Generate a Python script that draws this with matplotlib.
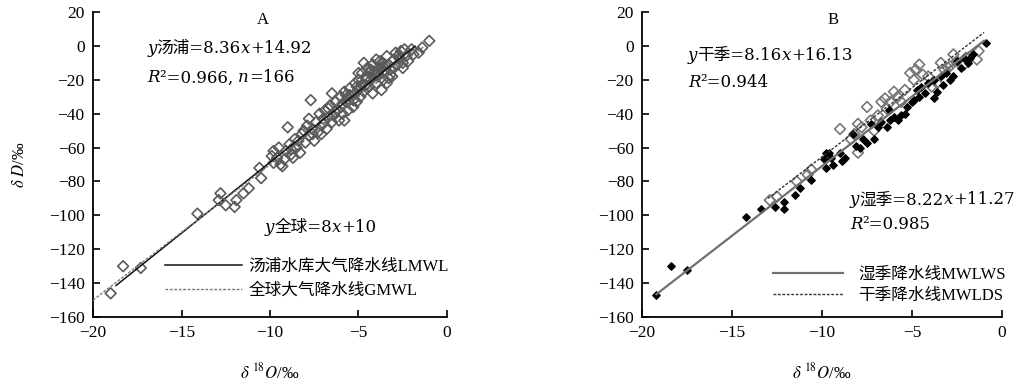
import matplotlib
matplotlib.use('Agg')
import numpy as np
import matplotlib.pyplot as plt

plt.rcParams['font.family'] = ['Liberation Serif', 'Noto Sans CJK SC']
plt.rcParams['mathtext.fontset'] = 'stix'

# ---- data ----
# A: all samples, Tangpu reservoir
a_x = [-19.0, -18.3, -17.3, -14.1, -12.8, -12.9, -12.5, -11.9, -12.0, -11.5, -11.2, -10.6, -10.5,
       -9.9, -9.8, -9.8, -9.6, -9.5, -9.4, -9.2, -9.1, -9.0, -8.9, -8.8, -8.7, -8.6, -8.5, -8.4,
       -8.3, -8.2, -8.1, -8.0, -7.9, -7.8, -7.8, -7.7, -7.6, -7.5, -7.4, -7.3, -7.2, -7.1, -7.0,
       -6.9, -6.8, -6.7, -6.6, -6.5, -6.5, -6.4, -6.3, -6.2, -6.1, -6.0, -6.0, -5.9, -5.8, -5.8,
       -5.7, -5.6, -5.6, -5.5, -5.4, -5.3, -5.2, -5.2, -5.1, -5.0, -5.0, -4.9, -4.8, -4.8, -4.7,
       -4.7, -4.6, -4.5, -4.5, -4.4, -4.4, -4.3, -4.2, -4.2, -4.1, -4.0, -4.0, -3.9, -3.8, -3.7,
       -3.7, -3.6, -3.5, -3.4, -3.4, -3.3, -3.2, -3.1, -3.0, -3.0, -2.9, -2.8, -2.7, -2.6, -2.5,
       -2.4, -2.3, -2.2, -2.0, -1.9, -1.6, -1.4, -1.0,
       -6.3, -5.9, -5.5, -5.3, -4.9, -4.6, -4.3, -3.9, -3.6, -3.3, -2.8, -2.5, -7.6, -7.0, -6.7,
       -8.8, -9.3, -5.1, -4.1, -3.5, -4.5, -3.8, -3.2, -2.6, -5.7, -5.0]
a_y = [-146, -130, -131, -99, -87, -91, -94, -91, -95, -87, -84, -72, -78,
       -65, -62, -69, -66, -60, -70, -67, -62, -48, -58, -61, -66, -55, -60, -56,
       -63, -52, -50, -57, -47, -43, -53, -32, -49, -56, -45, -51, -40, -52, -46,
       -38, -49, -42, -35, -28, -45, -41, -33, -38, -44, -30, -36, -40, -44, -27,
       -33, -32, -38, -25, -30, -36, -22, -28, -33, -20, -26, -30, -16, -23, -10,
       -27, -19, -13, -25, -24, -16, -20, -11, -28, -15, -22, -8, -18, -13, -26,
       -10, -20, -15, -6, -22, -11, -17, -18, -8, -13, -4, -11, -7, -8, -13,
       -2, -6, -9, -2, -5, -4, -1, 3,
       -39, -34, -29, -32, -24, -23, -14, -16, -12, -19, -6, -10, -52, -43, -37,
       -64, -71, -24, -17, -11, -19, -9, -14, -3, -29, -16]

# B: dry season (hollow) and wet season (filled)
dry_x = [-12.9, -12.5, -11.4, -10.8, -10.6, -9.0, -8.4, -8.2, -8.0, -8.0, -7.5, -7.1, -6.9,
         -6.7, -6.5, -6.4, -6.2, -6.0, -5.6, -5.1, -4.9, -4.8, -4.6, -4.1, -3.9, -3.6, -3.4,
         -3.2, -2.9, -2.5, -2.1, -2.0, -1.4, -1.3, -7.8, -7.3, -5.8, -5.4, -4.4, -3.0, -2.7]
dry_y = [-91, -89, -80, -76, -73, -49, -55, -52, -46, -63, -36, -50, -41,
         -33, -31, -37, -33, -27, -33, -16, -20, -14, -11, -18, -24, -22, -10,
         -14, -12, -9, -11, -7, -8, -3, -48, -44, -30, -26, -17, -13, -5]
wet_x = [-19.2, -18.4, -17.5, -14.2, -13.4, -12.6, -12.1, -12.1, -11.5, -11.2, -10.6, -9.8, -9.8,
         -9.5, -9.4, -9.0, -8.7, -8.3, -8.1, -7.5, -7.3, -6.9, -6.4, -6.3, -5.8, -5.4, -5.3,
         -4.9, -4.7, -4.5, -4.3, -4.1, -3.8, -3.8, -3.4, -3.1, -2.9, -2.5, -2.1, -1.8, -1.6,
         -0.9, -9.9, -9.6, -8.9, -7.9, -7.7, -6.7, -6.0, -5.6, -5.0, -4.6, -3.6, -3.3, -2.7,
         -2.3, -1.9, -7.1, -6.2]
wet_y = [-147, -130, -132, -101, -96, -95, -92, -96, -88, -84, -79, -72, -63,
         -66, -70, -63, -66, -52, -59, -57, -46, -48, -48, -38, -44, -40, -36,
         -32, -26, -24, -28, -22, -31, -20, -18, -16, -20, -9, -7, -7, -5,
         2, -67, -63, -68, -60, -55, -45, -42, -41, -33, -30, -27, -23, -18,
         -13, -10, -55, -44]

# regression lines: (slope, intercept, x start, x end)
lmwl = (8.36, 14.92, -18.7, -1.8)
gmwl = (8.0, 10.0, -20.0, -1.2)
wet_line = (8.22, 11.27, -19.2, -1.0)
dry_line = (8.16, 16.13, -13.0, -1.0)

x_ticks = [-20, -15, -10, -5, 0]
y_ticks = [-160, -140, -120, -100, -80, -60, -40, -20, 0, 20]

eq_font = ['DejaVu Serif', 'Noto Sans CJK SC']


def line_xy(p):
    xs = np.array([p[2], p[3]])
    return xs, p[0] * xs + p[1]


def rich(ax, x, y, parts, size=12):
    # draw text pieces one after the other (mixed italic / upright)
    t = None
    for s, st in parts:
        kw = dict(fontsize=size, style=st, va='center', ha='left', family=eq_font)
        if t is None:
            t = ax.text(x, y, s, transform=ax.transAxes, **kw)
        else:
            t = ax.annotate(s, xy=(1, 0.5), xycoords=t, **kw)
    return t


def style_axes(ax):
    ax.set_xlim(-20, 0)
    ax.set_ylim(-160, 20)
    ax.set_xticks(x_ticks)
    ax.set_yticks(y_ticks)
    for s in ['top', 'right']:
        ax.spines[s].set_visible(False)
    for s in ['left', 'bottom']:
        ax.spines[s].set_linewidth(1.3)
    ax.tick_params(direction='in', length=5, width=1.2, labelsize=12.5, pad=6)
    ax.set_xlabel(r'$\delta$ $^{18}\mathit{O}$/‰', fontsize=12)
    ax.xaxis.set_label_coords(0.5, -0.15)


fig = plt.figure(figsize=(10.21, 3.89), dpi=100)
axA = fig.add_axes([0.0911, 0.185, 0.3467, 0.784])
axB = fig.add_axes([0.6288, 0.185, 0.3526, 0.784])

# ---- A ----
style_axes(axA)
axA.scatter(a_x, a_y, marker='D', s=30, facecolors='none', edgecolors='#5a5a5a', linewidths=1.2, zorder=2)
xs, ys = line_xy(lmwl)
axA.plot(xs, ys, color='#111111', lw=1.1, label='汤浦水库大气降水线LMWL', zorder=3)
xs, ys = line_xy(gmwl)
axA.plot(xs, ys, color='#777777', lw=1.0, ls=(0, (2, 1.2)), label='全球大气降水线GMWL', zorder=3)
axA.set_ylabel(r'$\delta$ $\mathit{D}$/‰', fontsize=12)
axA.yaxis.set_label_coords(-0.184, 0.5)
axA.text(0.48, 0.975, 'A', transform=axA.transAxes, ha='center', va='center', fontsize=12)
rich(axA, 0.153, 0.882, [('y', 'italic'), ('汤浦=8.36', 'normal'), ('x', 'italic'), ('+14.92', 'normal')])
rich(axA, 0.153, 0.784, [('R', 'italic'), ('²=0.966, ', 'normal'), ('n', 'italic'), ('=166', 'normal')])
rich(axA, 0.486, 0.295, [('y', 'italic'), ('全球=8', 'normal'), ('x', 'italic'), ('+10', 'normal')])
axA.legend(loc='center left', bbox_to_anchor=(0.203, 0.125), frameon=False, fontsize=12,
           handlelength=4.6, handletextpad=0.4, labelspacing=0.45, borderpad=0, borderaxespad=0)

# ---- B ----
style_axes(axB)
axB.scatter(dry_x, dry_y, marker='D', s=30, facecolors='none', edgecolors='#777777', linewidths=1.2, zorder=2)
axB.scatter(wet_x, wet_y, marker='D', s=14, color='#000000', zorder=3)
xs, ys = line_xy(wet_line)
axB.plot(xs, ys, color='#707070', lw=1.6, label='湿季降水线MWLWS', zorder=4)
xs, ys = line_xy(dry_line)
axB.plot(xs, ys, color='#333333', lw=1.0, ls=(0, (2, 1.2)), label='干季降水线MWLDS', zorder=4)
axB.text(0.53, 0.975, 'B', transform=axB.transAxes, ha='center', va='center', fontsize=12)
rich(axB, 0.128, 0.859, [('y', 'italic'), ('干季=8.16', 'normal'), ('x', 'italic'), ('+16.13', 'normal')])
rich(axB, 0.128, 0.770, [('R', 'italic'), ('²=0.944', 'normal')])
rich(axB, 0.578, 0.384, [('y', 'italic'), ('湿季=8.22', 'normal'), ('x', 'italic'), ('+11.27', 'normal')])
rich(axB, 0.578, 0.302, [('R', 'italic'), ('²=0.985', 'normal')])
axB.legend(loc='center left', bbox_to_anchor=(0.364, 0.105), frameon=False, fontsize=12,
           handlelength=4.2, handletextpad=0.9, labelspacing=0.3, borderpad=0, borderaxespad=0)

fig.savefig('out.png', dpi=100)
